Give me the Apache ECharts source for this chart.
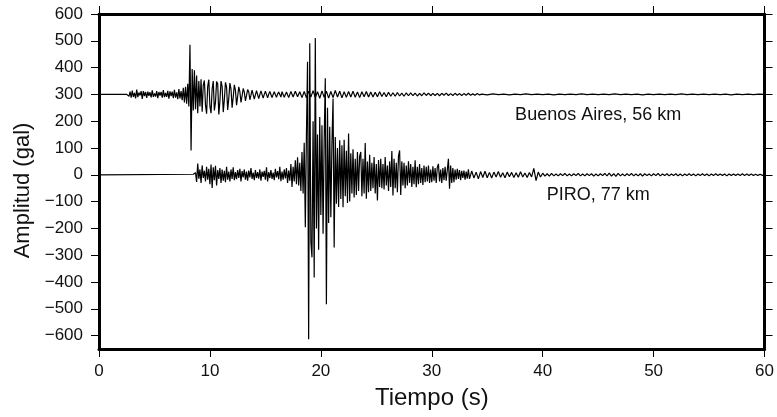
<!DOCTYPE html>
<html>
<head>
<meta charset="utf-8">
<script src="https://cdn.jsdelivr.net/npm/echarts@6/dist/echarts.min.js"></script>
<style>
  html, body { margin: 0; padding: 0; background: #fff; }
  #chart { width: 777px; height: 417px; }
</style>
</head>
<body>
<div id="chart"></div>
<script>
// Buenos Aires, 56 km (plotted with +300 gal offset)
let baOffset = 300;
let baNearStart = 2.5, baNearStep = 0.1;
let baNear = [
    0, 4, -7, 10, -12, 14, -9, 6, -15, 18,
    -10, 7, -4, 12, -17, 12, -6, 9, -13, 10,
    -5, 8, -11, 15, -9, 4, -8, 12, -14, 9,
    -4, 9, -12, 16, -10, 6, -9, 13, -16, 11,
    -6, 10, -14, 17, -12, 8, -18, 20, -15, 12,
    -22, 25, -30, 28, -35, 40, -45, 185, -209, 95,
    -60, 90, -55, 70, -70, 50, -45, 56, -65, 35,
    52, -40, -72, 30, 55, -45, -70, 20, 50, -60,
    -30, 48, 40, -75, -25, 50, 30, -66, -20, 45,
    28, -58, -15, 42, 20, -50, -10, 36, 15, -40,
    -8, 28, 10, -30, -5, 22, 8, -24, -4, 18,
    10, -20, -3, 16, 9, -18, -2, 14, 8, -16,
    -1, 13, 6, -14, 0, 12, 5, -13, 1, 11,
    4, -12, 0, 10, 5, -11, 1, 9, 3, -10
];
let baMidStart = 16.5, baMidStep = 0.2;
let baMid = [
    10, -11, 9, -12, 11, -10, 12, -9, 10, -12,
    11, -13, 12, -10, 14, -12, 10, -15, 13, -11,
    12, -14, 11, -12, 15, -10, 12, -13, 10, -11,
    11, -10, 12, -11, 9, -12, 10, -9, 11, -10,
    9, -10, 8, -9, 10, -8, 7, -9, 8, -7,
    6, -7, 7, -6, 5, -7, 6, -5, 6, -5,
    5, -6, 4, -5, 6, -4, 5, -5, 4, -4,
    4, -5, 4, -3, 5, -4, 3, -4, 4, -3,
    3, -4, 3, -3, 4, -3, 2, -3, 3, -2
];
let baLateStart = 34.5, baLateStep = 0.5;
let baLate = [
    1, -2, 2, -1, 1, -2, 1, -1, 2, -1,
    1, -1, 1, -2, 1, -1, 1, -1, 2, -1,
    1, -1, 1, -1, 2, -1, 1, -1, 1, -2,
    1, -1, 1, -1, 1, -1, 2, -1, 1, -1,
    1, -1, 1, -1, 1, -2, 1, -1, 1, -1,
    1, 0
];

// PIRO, 77 km
let piroOffset = 0;
let piroNearStart = 8.5, piroNearStep = 0.1;
let piroNear = [
    2, -5, 8, -27, 42, -15, 20, -30, 35, -12,
    15, -25, 30, -18, 22, -35, 38, -49, 28, -20,
    34, -40, 18, -15, 25, -30, 20, -22, 15, -28,
    30, -18, 12, -25, 20, -15, 28, -20, 10, -16,
    18, -12, 22, -25, 14, -10, 20, -18, 12, -22,
    16, -10, 25, -15, 8, -20, 18, -12, 10, -14,
    20, -22, 12, -8, 15, -18, 28, -25, 10, -12,
    18, -15, 8, -20, 22, -10, 14, -16, 30, -24,
    12, -18, 20, -14, 25, -30, 16, -22, 40, -45,
    30, -25, 54, -35, 65, -40, 45, -60, 85, -70,
    120, -196, 150, 422, -614, 491, -250, -308, 200, -383,
    510, -200, 150, -280, 216, -150, 185, -220, 130, 360,
    -483, 250, -180, 179, -158, 120, 285, -271, 141, -108,
    100, -120, 129, -90, 110, -121, 131, -80, 90, -105,
    154, -100, 80, -70, 95, -85, 60, -75, 85, -60,
    70, 85, -80, 60, -70, 119, -89, 50, -65, 75,
    -60, 45, -50, 66, -70, 40, -96, 55, -45, 60,
    -50, 40, -55, 66, -40, 35, -60, 50, -45, 89,
    -77, 60, -50, 45, -65, 70, 91, -75, 50, -40,
    45, -50, 35, -40, 50, -30, 40, -45, 30, -35,
    54, -46, 30, -35, 40, -30, 25, -38, 35, -28,
    30, -25, 35, -30, 20, -28, 32, -22, 25, -30,
    28, 41, -25, 20, -30, 25, -20, 30, -22, 18,
    60, -52, 35, -30, 25, -28, 20, -18, 22, -15,
    18, -20, 15, -12, 16, -18, 12, -14, 20, -15
];
let piroTailStart = 33.6, piroTailStep = 0.2;
let piroTail = [
    14, -12, 10, -15, 12, -10, 13, -11, 9, -12,
    10, -8, 12, -9, 8, -11, 10, -7, 9, -10,
    8, -9, 11, -8, 7, -10, 9, -8, 24, -22,
    10, -8, 6, -5, 4, -5, 5, -4, 3, -4,
    4, -3, 5, -4, 3, -4, 4, -3, 5, -4,
    3, -4, 4, -3, 4, -5, 3, -4, 4, -3,
    5, -4, 6, -5, 4, -6, 5, -4, 3, -4,
    4, -3, 5, -4, 3, -4, 4, -5, 4, -3,
    3, -4, 4, -3, 5, -4, 3, -3, 4, -4,
    3, -3, 4, -4, 3, -4, 3, -3, 4, -3,
    3, -4, 3, -3, 4, -3, 3, -4, 3, -3,
    4, -3, 3, -3, 3, -4, 3, -3, 3, -3,
    3, -3, 4, -3, 3, -3, 3, -3, 2, -3,
    2, -2, 0
];

let yTicks = [-600, -500, -400, -300, -200, -100, 0, 100, 200, 300, 400, 500, 600];
let stationLabels = ['Buenos Aires, 56 km', 'PIRO, 77 km'];
let labelTime = 45;
let labelAmp = [222, -77];

function samples(start, step, vals, offset) {
    return vals.map(function (v, i) {
        return [Math.round((start + i * step) * 100) / 100, v + offset];
    });
}

let baData = [[0, baOffset]]
    .concat(samples(baNearStart, baNearStep, baNear, baOffset))
    .concat(samples(baMidStart, baMidStep, baMid, baOffset))
    .concat(samples(baLateStart, baLateStep, baLate, baOffset));

let piroData = [[0, piroOffset]]
    .concat(samples(piroNearStart, piroNearStep, piroNear, piroOffset))
    .concat(samples(piroTailStart, piroTailStep, piroTail, piroOffset));

let font = "'Liberation Sans', Arial, Helvetica, sans-serif";
let frame = { show: true, onZero: false, lineStyle: { color: '#000', width: 3 } };
let tick = { show: true, inside: false, length: 8, lineStyle: { color: '#000', width: 1 } };

function fmt(v) {
    return v < 0 ? '\u2212' + Math.abs(v) : String(v);
}

function stationMark(text, y) {
    return {
        symbol: 'rect',
        symbolSize: 1,
        itemStyle: { color: 'transparent' },
        label: {
            show: true,
            position: 'inside',
            formatter: text,
            color: '#111',
            fontFamily: font,
            fontSize: 18
        },
        data: [{ coord: [labelTime, y] }]
    };
}

let option = {
    animation: false,
    grid: { left: 99, right: 10, top: 14, bottom: 68 },
    xAxis: [
        {
            type: 'value', position: 'bottom', min: 0, max: 60, interval: 10,
            name: 'Tiempo (s)', nameLocation: 'middle', nameGap: 37,
            nameTextStyle: { fontFamily: font, fontSize: 24, color: '#111' },
            axisLine: frame, axisTick: tick,
            axisLabel: { fontFamily: font, fontSize: 17, color: '#111', margin: 14 },
            splitLine: { show: false }
        },
        {
            type: 'value', position: 'top', min: 0, max: 60, interval: 10,
            axisLine: frame, axisTick: tick,
            axisLabel: { show: false }, splitLine: { show: false }
        }
    ],
    yAxis: [
        {
            type: 'value', position: 'left', min: -650, max: 600,
            name: 'Amplitud (gal)', nameLocation: 'middle', nameGap: 62,
            nameTextStyle: { fontFamily: font, fontSize: 22, color: '#111', padding: [0, 18, 0, 0] },
            axisLine: frame,
            axisTick: Object.assign({ customValues: yTicks }, tick),
            axisLabel: {
                customValues: yTicks, formatter: fmt,
                fontFamily: font, fontSize: 17, color: '#111', margin: 16
            },
            splitLine: { show: false }
        },
        {
            type: 'value', position: 'right', min: -650, max: 600,
            axisLine: frame,
            axisTick: Object.assign({ customValues: yTicks }, tick),
            axisLabel: { show: false, customValues: yTicks },
            splitLine: { show: false }
        }
    ],
    series: [
        {
            name: stationLabels[0], type: 'line', data: baData,
            showSymbol: false, symbol: 'none', sampling: null,
            lineStyle: { color: '#000', width: 1.2 },
            markPoint: stationMark(stationLabels[0], labelAmp[0])
        },
        {
            name: stationLabels[1], type: 'line', data: piroData,
            showSymbol: false, symbol: 'none', sampling: null,
            lineStyle: { color: '#000', width: 1.2 },
            markPoint: stationMark(stationLabels[1], labelAmp[1])
        }
    ]
};

echarts.init(document.getElementById('chart')).setOption(option);
</script>
</body>
</html>
